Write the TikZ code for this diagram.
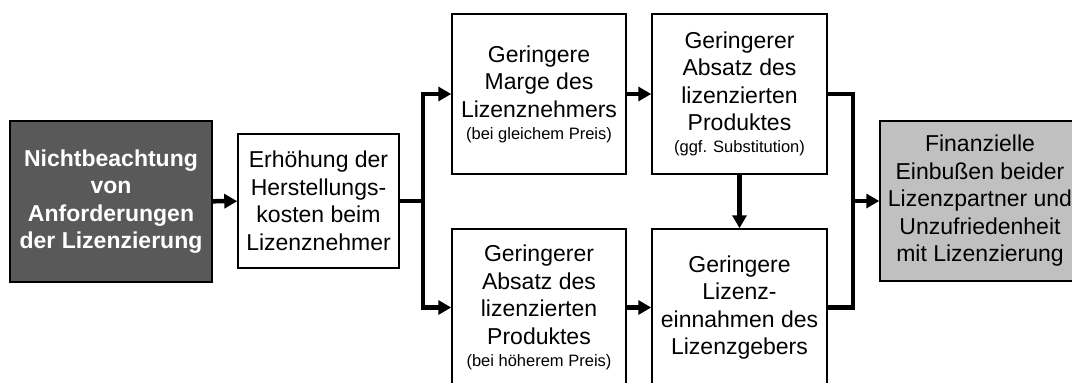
\documentclass[tikz,border=0pt]{standalone}
\usepackage{fontspec}
\setmainfont{Liberation Sans}
\usetikzlibrary{arrows.meta}
\definecolor{darkbox}{HTML}{595959}
\definecolor{lightbox}{HTML}{C0C0C0}
\newcommand{\note}[1]{{\fontsize{16.5}{19}\selectfont #1}}
\tikzset{
  box/.style={draw=black, line width=1.5pt, fill=white, inner sep=0pt,
    align=center, font=\fontsize{23}{27.5}\selectfont},
  conn/.style={line width=4.5pt, line join=miter},
  arr/.style={conn, -{Triangle[length=13pt,width=14pt]}},
}
\begin{document}
\begin{tikzpicture}[x=1pt,y=-1pt]
\useasboundingbox (0,0) rectangle (1072,383);
\fill[white] (0,0) rectangle (1072,383);

\node[box, fill=darkbox, text=white, font=\fontsize{23}{27.5}\selectfont\bfseries,
  minimum width=202pt, minimum height=161pt] (cause) at (111,201.5)
  {Nichtbeachtung\\von\\Anforderungen\\der Lizenzierung};
\node[box, minimum width=161pt, minimum height=134pt] (cost) at (318.5,201)
  {Erhöhung der\\Herstellungs-\\kosten beim\\Lizenznehmer};
\node[box, minimum width=174pt, minimum height=160pt] (margin) at (539,94)
  {Geringere\\Marge des\\Lizenznehmers\\[-5.5pt]\note{(bei gleichem Preis)}};
\node[box, minimum width=175pt, minimum height=160pt] (salesS) at (739.5,94)
  {Geringerer\\Absatz des\\lizenzierten\\Produktes\\[-5.5pt]\note{(ggf. Substitution)}};
\node[box, minimum width=174pt, minimum height=157pt] (salesP) at (539,307.5)
  {Geringerer\\Absatz des\\lizenzierten\\Produktes\\[-5.5pt]\note{(bei höherem Preis)}};
\node[box, minimum width=175pt, minimum height=157pt] (income) at (739.5,307.5)
  {Geringere\\Lizenz-\\einnahmen des\\Lizenzgebers};
\node[box, fill=lightbox, minimum width=200pt, minimum height=160pt] (loss) at (980,201)
  {Finanzielle\\Einbußen beider\\Lizenzpartner und\\Unzufriedenheit\\mit Lizenzierung};

\coordinate (split) at (423,201);
\coordinate (merge) at (853,201);

\draw[arr] (cause) -- (cost);
\draw[conn] (cost.east) -- (split);
\draw[arr] (split) |- (margin.west);
\draw[arr] (split) |- (salesP.west);
\draw[arr] (margin) -- (salesS);
\draw[arr] (salesP) -- (income);
\draw[arr] (salesS) -- (income);
\draw[conn] (salesS.east) -| (merge) |- (income.east);
\draw[arr] (merge) -- (loss.west);
\end{tikzpicture}
\end{document}
